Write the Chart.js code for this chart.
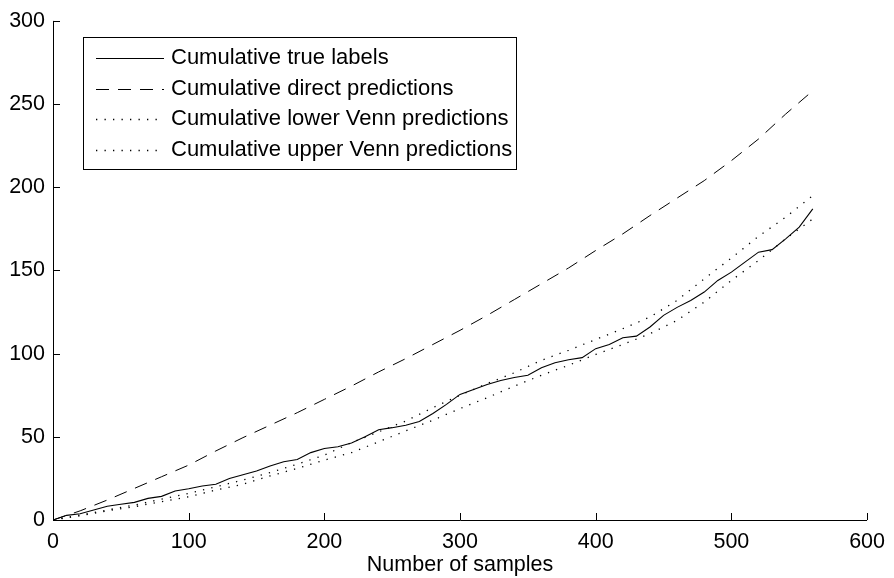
<!DOCTYPE html>
<html><head><meta charset="utf-8">
<script src="https://cdn.jsdelivr.net/npm/chart.js@4/dist/chart.umd.min.js"></script>
<style>html,body{margin:0;padding:0;background:#fff;}#wrap{width:894px;height:578px;}</style>
</head><body><div id="wrap"><canvas id="c" width="894" height="578"></canvas></div>
<script>
// ---- data ----
const samples10 = [0,10,20,30,40,50,60,70,80,90,100,110,120,130,140,150,160,170,180,190,200,210,220,230,240,250,260,270,280,290,300,310,320,330,340,350,360,370,380,390,400,410,420,430,440,450,460,470,480,490,500,510,520,530,540,550,560];
const trueLabels = [0,2.8,3.8,6,8.3,9.5,10.6,13,14.2,17.4,18.8,20.4,21.5,25,27.2,29.5,32.5,35,36.4,40.5,43,44,46.3,50,54.2,55.5,57,59.2,64,69.5,75.5,78.5,81.5,83.8,85.7,87,91.5,94.5,96.3,97.6,103,105.5,109.5,110.5,116,123,127.8,132,137,144,149,155,161,162.5,169,176,187];
const samples20 = [0,20,40,60,80,100,120,140,160,180,200,220,240,260,280,300,320,340,360,380,400,420,440,460,480,500,520,540,560];
const directPred = [0,5.5,12,19,26,33,41.5,49.5,57,64.5,72.5,80.5,89,97,105.5,114,123,132.5,142,151.5,162,172,183,193.5,204,216,229,244,258];
const lowerVenn = [0,2.5,5.5,8,11,14,18,21.5,26.5,31,36,40.5,47,53.6,60,67,73.5,80.5,87,93,99.5,105.5,112,120,131,144,156,169,181];
const upperVenn = [0,3,6,9,12.5,16,20,24,28.5,33.5,39,46.5,53,59.5,67.5,75,82,88.5,96,102,108.5,115,122,132,145,157.5,170.5,182,195];
const xTickValues = [0,100,200,300,400,500,600];
const yTickValues = [0,50,100,150,200,250,300];
const seriesNames = ['Cumulative true labels','Cumulative direct predictions','Cumulative lower Venn predictions','Cumulative upper Venn predictions'];
const xAxisTitle = 'Number of samples';

const FONT = '"Liberation Sans", Arial, Helvetica, sans-serif';
const pts = (xs, ys) => xs.map((x, i) => ({x, y: ys[i]}));

const axesPlugin = {
  id: 'matlabAxes',
  afterDatasetsDraw(chart) {
    const {ctx, chartArea: a, scales: {x, y}} = chart;
    ctx.save();
    ctx.strokeStyle = '#000';
    ctx.lineWidth = 1;
    ctx.beginPath();
    ctx.moveTo(a.left + 0.5, a.top);
    ctx.lineTo(a.left + 0.5, a.bottom + 0.5);
    ctx.lineTo(a.right, a.bottom + 0.5);
    xTickValues.forEach(v => { const p = Math.round(x.getPixelForValue(v)) + 0.5; ctx.moveTo(p, a.bottom); ctx.lineTo(p, a.bottom - 7); });
    yTickValues.forEach(v => { const p = Math.round(y.getPixelForValue(v)) + 0.5; ctx.moveTo(a.left, p); ctx.lineTo(a.left + 7, p); });
    ctx.stroke();
    ctx.restore();
  }
};

const legendPlugin = {
  id: 'boxLegend',
  afterDraw(chart) {
    const {ctx} = chart;
    const box = {l: 83.5, t: 37.5, r: 516.5, b: 169.5};
    const rows = [58, 88.5, 119, 149.5];
    ctx.save();
    ctx.fillStyle = '#fff';
    ctx.fillRect(box.l, box.t, box.r - box.l, box.b - box.t);
    ctx.strokeStyle = '#000';
    ctx.lineWidth = 1;
    ctx.setLineDash([]);
    ctx.strokeRect(box.l, box.t, box.r - box.l, box.b - box.t);
    chart.data.datasets.forEach((ds, i) => {
      const yy = Math.round(rows[i]) + 0.5;
      ctx.beginPath();
      ctx.setLineDash(ds.borderDash || []);
      ctx.strokeStyle = ds.borderColor;
      ctx.lineWidth = ds.borderWidth;
      ctx.moveTo(96, yy);
      ctx.lineTo(164, yy);
      ctx.stroke();
      ctx.setLineDash([]);
      ctx.fillStyle = '#000';
      ctx.font = '22px ' + FONT;
      ctx.textBaseline = 'middle';
      ctx.textAlign = 'left';
      ctx.fillText(ds.label, 171, rows[i]);
    });
    ctx.restore();
  }
};

const base = {pointRadius: 0, pointHoverRadius: 0, tension: 0, fill: false, borderWidth: 1, borderColor: '#000'};
new Chart(document.getElementById('c'), {
  type: 'line',
  data: {
    datasets: [
      Object.assign({}, base, {label: seriesNames[0], data: pts(samples10, trueLabels), borderWidth: 1.1}),
      Object.assign({}, base, {label: seriesNames[1], data: pts(samples20, directPred), borderDash: [13, 9]}),
      Object.assign({}, base, {label: seriesNames[2], data: pts(samples20, lowerVenn), borderDash: [1.3, 7.2], borderWidth: 1.3}),
      Object.assign({}, base, {label: seriesNames[3], data: pts(samples20, upperVenn), borderDash: [1.3, 7.2], borderWidth: 1.3})
    ]
  },
  options: {
    responsive: false,
    animation: false,
    devicePixelRatio: 1,
    layout: {padding: {left: 0, right: 20, top: 20, bottom: 0}},
    plugins: {legend: {display: false}, tooltip: {enabled: false}},
    scales: {
      x: {
        type: 'linear', min: 0, max: 600,
        afterBuildTicks: s => { s.ticks = xTickValues.map(v => ({value: v})); },
        afterFit: s => { s.height = 58; },
        grid: {display: false, drawTicks: false},
        border: {display: false},
        ticks: {color: '#000', font: {family: FONT, size: 21.5}, padding: 9, maxRotation: 0, autoSkip: false},
        title: {display: true, text: xAxisTitle, color: '#000', font: {family: FONT, size: 21.5}, padding: {top: 0, bottom: 0}}
      },
      y: {
        type: 'linear', min: 0, max: 300,
        afterBuildTicks: s => { s.ticks = yTickValues.map(v => ({value: v})); },
        afterFit: s => { s.width = 53; },
        grid: {display: false, drawTicks: false},
        border: {display: false},
        ticks: {color: '#000', font: {family: FONT, size: 21.5}, padding: 8, autoSkip: false}
      }
    }
  },
  plugins: [axesPlugin, legendPlugin]
});
</script></body></html>
